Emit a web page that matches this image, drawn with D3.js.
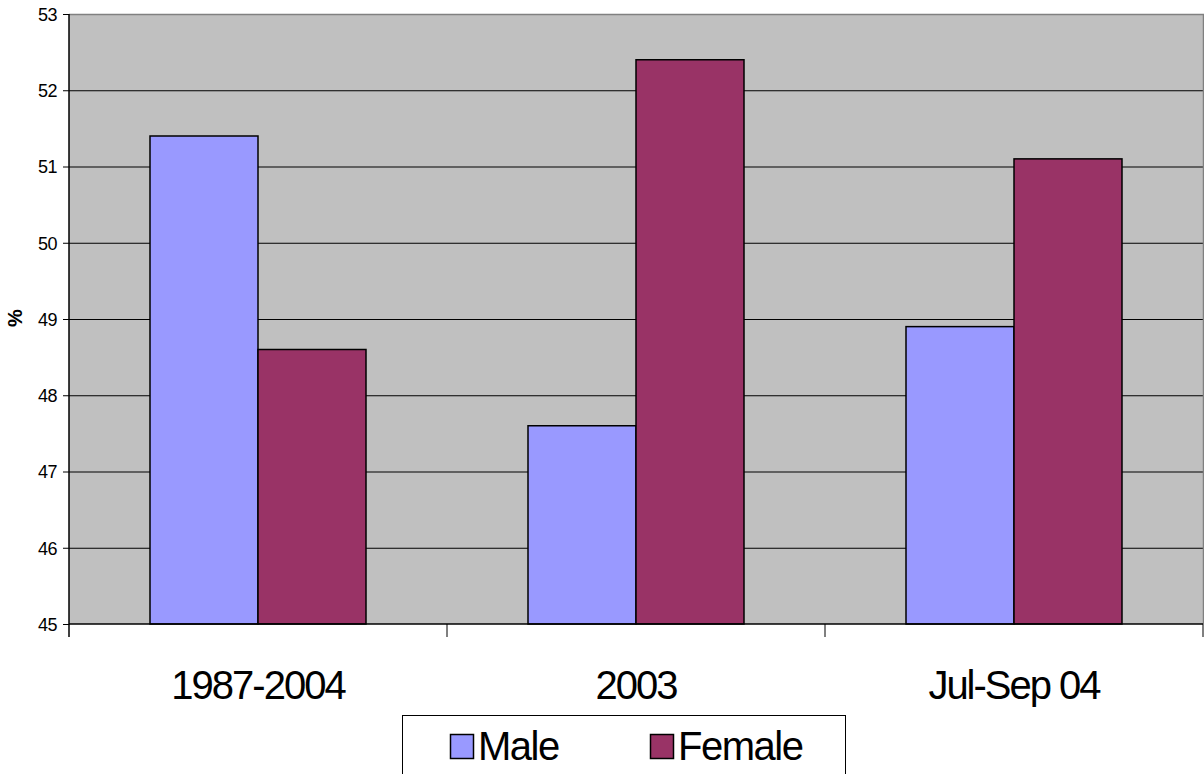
<!DOCTYPE html>
<html>
<head>
<meta charset="utf-8">
<script src="https://cdn.jsdelivr.net/npm/d3@7"></script>
<style>
  body { margin: 0; background: #fff; }
  svg text { font-family: "Liberation Sans", Arial, sans-serif; fill: #000; }
</style>
</head>
<body>
<div class="chart"></div>
<script>
// data
var categories = ["1987-2004", "2003", "Jul-Sep 04"];
var seriesNames = ["Male", "Female"];
var seriesColors = ["#9999FF", "#993366"];
var maleValues = [51.4, 47.6, 48.9];
var femaleValues = [48.6, 52.4, 51.1];
var yTicks = [45, 46, 47, 48, 49, 50, 51, 52, 53];

var width = 1204, height = 774;
var plot = {left: 69, top: 14, right: 1203, bottom: 624};

var svg = d3.select(".chart").append("svg")
    .attr("width", width)
    .attr("height", height);

var x0 = d3.scaleBand()
    .domain(categories)
    .range([plot.left, plot.right])
    .paddingInner(0)
    .paddingOuter(0);

var x1 = d3.scaleBand()
    .domain(seriesNames)
    .range([0, x0.bandwidth()])
    .paddingInner(0)
    .paddingOuter(0.75);

var y = d3.scaleLinear()
    .domain([45, 53])
    .range([plot.bottom, plot.top]);

// plot background
svg.append("rect")
    .attr("x", plot.left)
    .attr("y", plot.top)
    .attr("width", plot.right - plot.left)
    .attr("height", plot.bottom - plot.top)
    .style("fill", "#C0C0C0");

// gridlines
svg.append("g")
  .selectAll("line")
  .data(yTicks.slice(1, -1))
  .enter()
  .append("line")
    .attr("x1", plot.left)
    .attr("x2", plot.right)
    .attr("y1", function(d) { return y(d) + 0.5; })
    .attr("y2", function(d) { return y(d) + 0.5; })
    .style("stroke", "#000")
    .style("stroke-width", 1);

// top + right border
svg.append("path")
    .attr("d", "M" + plot.left + "," + (plot.top + 0.5) + "H" + (plot.right + 0.5) + "V" + plot.bottom)
    .style("fill", "none")
    .style("stroke", "#808080")
    .style("stroke-width", 1.5);

// bars
var rows = categories.map(function(c, i) {
  return {cat: c, values: [maleValues[i], femaleValues[i]]};
});

var groups = svg.selectAll(".group")
    .data(rows)
    .enter()
    .append("g")
    .attr("class", "group")
    .attr("transform", function(d) { return "translate(" + x0(d.cat) + ",0)"; });

groups.selectAll("rect")
    .data(function(d) {
      return d.values.map(function(v, j) { return {name: seriesNames[j], value: v, color: seriesColors[j]}; });
    })
    .enter()
    .append("rect")
    .attr("x", function(d) { return x1(d.name); })
    .attr("y", function(d) { return y(d.value); })
    .attr("width", x1.bandwidth())
    .attr("height", function(d) { return y(45) - y(d.value); })
    .style("fill", function(d) { return d.color; })
    .style("stroke", "#000")
    .style("stroke-width", 1.5);

// y axis
var yAxis = svg.append("g")
    .attr("transform", "translate(" + plot.left + ",0)")
    .call(d3.axisLeft(y).tickValues(yTicks).tickSize(6).tickPadding(6).tickFormat(d3.format("d")));
yAxis.select(".domain").remove();
yAxis.append("line")
    .attr("x1", 0).attr("x2", 0)
    .attr("y1", plot.top).attr("y2", plot.bottom + 13)
    .style("stroke", "#000").style("stroke-width", 1.5);
yAxis.selectAll(".tick line").style("stroke", "#000");
yAxis.selectAll("text")
    .style("font-size", "18px")
    .style("letter-spacing", "-0.5px")
    .attr("dy", "0.35em");

// x axis baseline + category boundary ticks
svg.append("line")
    .attr("x1", plot.left).attr("x2", plot.right)
    .attr("y1", plot.bottom).attr("y2", plot.bottom)
    .style("stroke", "#000").style("stroke-width", 1.5);

var boundaries = categories.map(function(c) { return x0(c); }).concat([plot.right]);
svg.selectAll(".xtick")
    .data(boundaries.slice(1))
    .enter()
    .append("line")
    .attr("class", "xtick")
    .attr("x1", function(d) { return d; })
    .attr("x2", function(d) { return d; })
    .attr("y1", plot.bottom)
    .attr("y2", plot.bottom + 13)
    .style("stroke", "#000");

svg.selectAll(".xlabel")
    .data(categories)
    .enter()
    .append("text")
    .attr("class", "xlabel")
    .attr("x", function(d) { return x0(d) + x0.bandwidth() / 2; })
    .attr("y", 699)
    .attr("text-anchor", "middle")
    .style("font-size", "40px")
    .style("letter-spacing", "-2px")
    .text(function(d) { return d; });

// y axis title
svg.append("text")
    .attr("transform", "translate(22,318) rotate(-90)")
    .attr("text-anchor", "middle")
    .style("font-size", "20px")
    .style("font-weight", "bold")
    .text("%");

// legend
var legend = svg.append("g");
legend.append("rect")
    .attr("x", 402.5)
    .attr("y", 715.5)
    .attr("width", 443)
    .attr("height", 70)
    .style("fill", "#fff")
    .style("stroke", "#000")
    .style("stroke-width", 1);

var legendX = [450, 650];
var items = legend.selectAll(".item")
    .data(seriesNames)
    .enter()
    .append("g")
    .attr("transform", function(d, i) { return "translate(" + legendX[i] + ",0)"; });

items.append("rect")
    .attr("x", 0.5)
    .attr("y", 734.5)
    .attr("width", 23)
    .attr("height", 24)
    .style("fill", function(d, i) { return seriesColors[i]; })
    .style("stroke", "#000")
    .style("stroke-width", 1.5);

items.append("text")
    .attr("x", 28)
    .attr("y", 760)
    .style("font-size", "40px")
    .style("letter-spacing", "-1.5px")
    .text(function(d) { return d; });
</script>
</body>
</html>
